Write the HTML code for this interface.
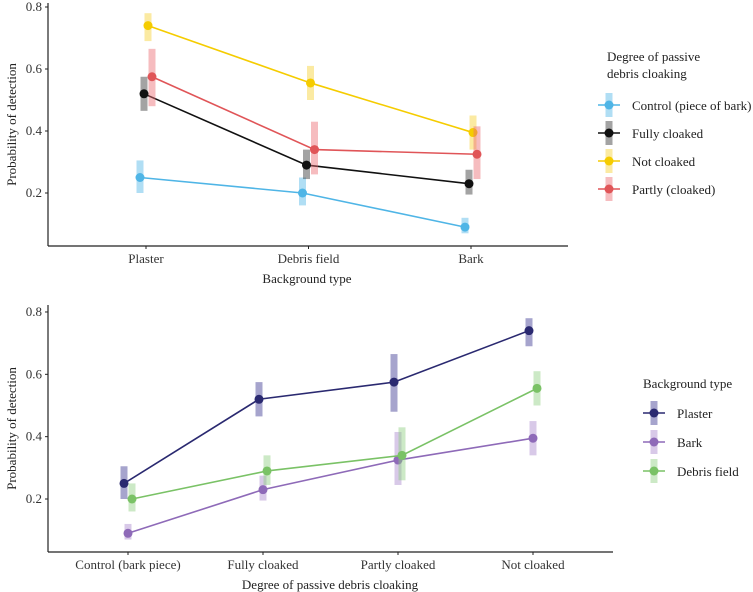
<!DOCTYPE html>
<html><head><meta charset="utf-8"><style>
html,body{margin:0;padding:0;background:#fff;}
svg{display:block;font-family:"Liberation Serif",serif;}
</style></head><body>
<svg id="chart" width="753" height="592"></svg>
<script>
// ---- Top chart data ----
const topCats = ["Plaster","Debris field","Bark"];
const topSeries = ["Control (piece of bark)","Fully cloaked","Not cloaked","Partly (cloaked)"];
const topControl = [0.25,0.20,0.09];
const topControlLo = [0.20,0.16,0.07];
const topControlHi = [0.305,0.25,0.12];
const topFully = [0.52,0.29,0.23];
const topFullyLo = [0.465,0.245,0.195];
const topFullyHi = [0.575,0.34,0.275];
const topNot = [0.74,0.555,0.395];
const topNotLo = [0.69,0.50,0.34];
const topNotHi = [0.78,0.61,0.45];
const topPartly = [0.575,0.34,0.325];
const topPartlyLo = [0.48,0.26,0.245];
const topPartlyHi = [0.665,0.43,0.415];
// ---- Bottom chart data ----
const botCats = ["Control (bark piece)","Fully cloaked","Partly cloaked","Not cloaked"];
const botSeries = ["Plaster","Bark","Debris field"];
const botPlaster = [0.25,0.52,0.575,0.74];
const botPlasterLo = [0.20,0.465,0.48,0.69];
const botPlasterHi = [0.305,0.575,0.665,0.78];
const botBark = [0.09,0.23,0.325,0.395];
const botBarkLo = [0.07,0.195,0.245,0.34];
const botBarkHi = [0.12,0.275,0.415,0.45];
const botDebris = [0.20,0.29,0.34,0.555];
const botDebrisLo = [0.16,0.245,0.26,0.50];
const botDebrisHi = [0.25,0.34,0.43,0.61];
const yTicks = [0.2,0.4,0.6,0.8];

const svg = document.getElementById('chart');
const NS = 'http://www.w3.org/2000/svg';
function mk(tag, attrs, parent){
  const e = document.createElementNS(NS, tag);
  for (const k in attrs) e.setAttribute(k, attrs[k]);
  (parent||svg).appendChild(e);
  return e;
}

function drawPanel(cfg){
  const g = mk('g', {});
  
  
  const y = v => cfg.y02 - (v - 0.2) * cfg.pxPerUnit;
  const x = i => cfg.x0 + i * cfg.step;
  // axes
  const ya = mk('line', {x1:48,y1:cfg.yTop,x2:48,y2:cfg.xAxisY,stroke:'#222','stroke-width':1.2}, g);
  
  
  const xa = mk('line', {x1:48,y1:cfg.xAxisY,x2:cfg.xEnd,y2:cfg.xAxisY,stroke:'#222','stroke-width':1.2}, g);
  
  
  yTicks.forEach(t => {
    mk('line', {x1:45,x2:48,y1:y(t),y2:y(t),stroke:'#222'}, g);
    const tx = mk('text', {x:42,y:y(t)+4,'text-anchor':'end','font-size':13,fill:'#333'}, g);
    tx.textContent = t.toFixed(1);
    
    
  });
  cfg.cats.forEach((c,i) => {
    mk('line', {x1:x(i),x2:x(i),y1:cfg.xAxisY,y2:cfg.xAxisY+3,stroke:'#222'}, g);
    const tx = mk('text', {x:x(i),y:cfg.xAxisY+17,'text-anchor':'middle','font-size':13,fill:'#333'}, g);
    tx.textContent = c;
    
    
  });
  const xt = mk('text', {x:cfg.xTitleX,y:cfg.xAxisY+37,'text-anchor':'middle','font-size':13,fill:'#222'}, g);
  xt.textContent = cfg.xTitle;
  
  
  const ytc = (cfg.yTop + cfg.xAxisY)/2;
  const yt = mk('text', {x:0,y:0,'text-anchor':'middle','font-size':13,fill:'#222',transform:`translate(16,${ytc}) rotate(-90)`}, g);
  yt.textContent = 'Probability of detection';
  
  
  // series
  cfg.series.forEach((s,si) => {
    const sg = mk('g', {}, g);
    
    
    const pts = s.vals.map((v,i) => [x(i)+s.off, y(v)]);
    s.vals.forEach((v,i) => {
      const r = mk('rect', {x:x(i)+s.off-3.5,y:y(s.hi[i]),width:7,height:y(s.lo[i])-y(s.hi[i]),fill:s.ci,'fill-opacity':0.45}, sg);
      
      
    });
    const ln = mk('polyline', {points:pts.map(p=>p.join(',')).join(' '),fill:'none',stroke:s.col,'stroke-width':1.6}, sg);
    
    
    pts.forEach(p => {
      const c = mk('circle', {cx:p[0],cy:p[1],r:4.5,fill:s.col}, sg);
      
      
    });
  });
  // legend
  const lg = mk('g', {}, g);
  
  
  cfg.legTitle.forEach((t,k) => {
    const tt = mk('text', {x:cfg.legTitleX,y:cfg.legTitleY+k*17,'font-size':13,fill:'#222'}, lg);
    tt.textContent = t;
    
    
  });
  cfg.series.forEach((s,si) => {
    const ey = cfg.legY + si*cfg.legStep;
    const eg = mk('g', {}, lg);
    
    
    mk('rect', {x:cfg.legKeyX-3.5,y:ey-12,width:7,height:24,fill:s.ci,'fill-opacity':0.45}, eg);
    mk('line', {x1:cfg.legKeyX-11,x2:cfg.legKeyX+11,y1:ey,y2:ey,stroke:s.col,'stroke-width':1.6}, eg);
    mk('circle', {cx:cfg.legKeyX,cy:ey,r:4.5,fill:s.col}, eg);
    const tx = mk('text', {x:cfg.legKeyX+23,y:ey+5,'font-size':13,fill:'#222'}, eg);
    tx.textContent = s.label;
  });
}

drawPanel({
  name:'top-panel', cats:topCats, x0:146, step:162.5, y02:193, pxPerUnit:310,
  yTop:3, xAxisY:246, xEnd:568, xTitle:'Background type', xTitleX:307,
  legTitle:['Degree of passive','debris cloaking'], legTitleX:607, legTitleY:61,
  legKeyX:609, legY:105, legStep:28,
  series:[
    {key:'control', label:topSeries[0], vals:topControl, lo:topControlLo, hi:topControlHi, col:'#4fb5e6', ci:'#4fb5e6', off:-6},
    {key:'fully', label:topSeries[1], vals:topFully, lo:topFullyLo, hi:topFullyHi, col:'#111', ci:'#333', off:-2},
    {key:'not', label:topSeries[2], vals:topNot, lo:topNotLo, hi:topNotHi, col:'#f5cc00', ci:'#f7d030', off:2},
    {key:'partly', label:topSeries[3], vals:topPartly, lo:topPartlyLo, hi:topPartlyHi, col:'#e05558', ci:'#ea6a70', off:6}
  ]
});
drawPanel({
  name:'bottom-panel', cats:botCats, x0:128, step:135, y02:499, pxPerUnit:311.7,
  yTop:305, xAxisY:552, xEnd:613, xTitle:'Degree of passive debris cloaking', xTitleX:330,
  legTitle:['Background type'], legTitleX:643, legTitleY:388,
  legKeyX:654, legY:413, legStep:29,
  series:[
    {key:'plaster', label:botSeries[0], vals:botPlaster, lo:botPlasterLo, hi:botPlasterHi, col:'#2a2970', ci:'#3a3590', off:-4},
    {key:'bark', label:botSeries[1], vals:botBark, lo:botBarkLo, hi:botBarkHi, col:'#8e6ab8', ci:'#a987cc', off:0},
    {key:'debris', label:botSeries[2], vals:botDebris, lo:botDebrisLo, hi:botDebrisHi, col:'#7ac266', ci:'#8fcf80', off:4}
  ]
});
</script>
</body></html>
